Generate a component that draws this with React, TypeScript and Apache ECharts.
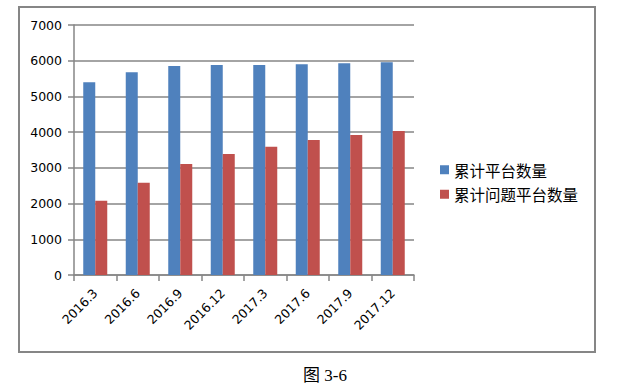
import React, { useEffect, useRef } from "react";
import * as echarts from "echarts";

const categories = ["2016.3", "2016.6", "2016.9", "2016.12", "2017.3", "2017.6", "2017.9", "2017.12"];
const totalPlatforms = [5400, 5680, 5850, 5880, 5880, 5900, 5930, 5960];
const problemPlatforms = [2080, 2580, 3110, 3390, 3590, 3780, 3920, 4030];
const seriesNames = ["累计平台数量", "累计问题平台数量"];
const caption = "图 3-6";

export default function App() {
  const ref = useRef<HTMLDivElement>(null);
  useEffect(() => {
    if (!ref.current) return;
    const chart = echarts.init(ref.current, undefined, { renderer: "svg" });
    const gray = "#868686";
    chart.setOption({
      animation: false,
      backgroundColor: "#ffffff",
      grid: { left: 74, right: 216, top: 25, bottom: 111, containLabel: false },
      legend: {
        orient: "vertical",
        left: 435,
        top: 157,
        itemWidth: 9,
        itemHeight: 9,
        itemGap: 9,
        icon: "rect",
        textStyle: { fontSize: 15.5, color: "#000", fontFamily: "'Noto Sans CJK SC'", padding: [0, 0, 0, 0] },
        data: seriesNames,
      },
      xAxis: {
        type: "category",
        data: categories,
        axisLine: { lineStyle: { color: gray, width: 1.5 } },
        axisTick: { show: true, length: 6, lineStyle: { color: gray, width: 1.5 } },
        axisLabel: {
          rotate: 45,
          margin: 16,
          fontSize: 12.5,
          color: "#000",
          fontFamily: "'DejaVu Sans'",
          interval: 0,
        },
      },
      yAxis: {
        type: "value",
        min: 0,
        max: 7000,
        interval: 1000,
        axisLine: { show: true, lineStyle: { color: gray, width: 1.5 } },
        axisTick: { show: true, length: 6, lineStyle: { color: gray, width: 1.5 } },
        axisLabel: {
          fontSize: 12.5,
          color: "#000",
          fontFamily: "'DejaVu Sans'",
          margin: 12,
          formatter: (v: number) => String(v),
        },
        splitLine: { lineStyle: { color: gray, width: 1.5 } },
      },
      series: [
        {
          name: seriesNames[0],
          type: "bar",
          data: totalPlatforms,
          barWidth: 12,
          barGap: "0%",
          itemStyle: { color: "#4F81BD" },
        },
        {
          name: seriesNames[1],
          type: "bar",
          data: problemPlatforms,
          barWidth: 12,
          barGap: "0%",
          itemStyle: { color: "#C0504D" },
        },
      ],
      graphic: [
        {
          type: "rect",
          shape: { x: 19, y: 7, width: 576, height: 345 },
          style: { fill: "none", stroke: gray, lineWidth: 2 },
          silent: true,
          z: -1,
        },
        {
          type: "text",
          x: 303,
          y: 375,
          style: {
            text: caption,
            fontSize: 17,
            fontFamily: "'Liberation Serif', 'Noto Sans CJK SC'",
            fill: "#000",
            verticalAlign: "middle",
            align: "left",
          },
        },
      ],
    });
    return () => chart.dispose();
  }, []);
  return (
    <div
      ref={ref}
      style={{ position: "absolute", left: 0, top: 0, width: 630, height: 386 }}
    />
  );
}
